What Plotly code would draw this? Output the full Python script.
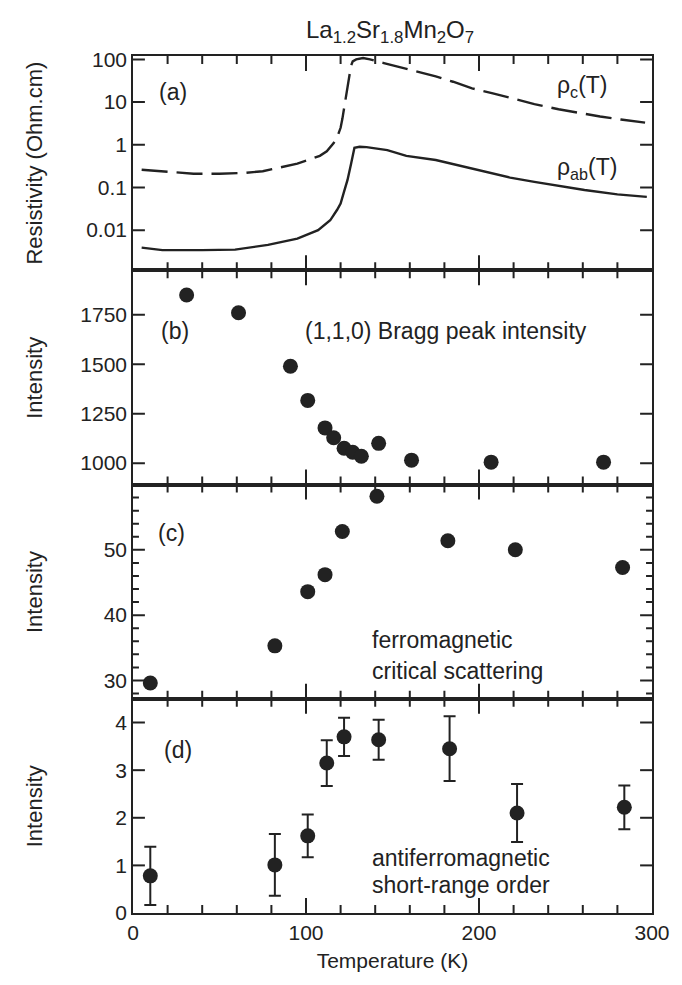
import plotly.graph_objects as go

# ---- data ----
T_rho_c = [5, 15, 25, 35, 50, 65, 75, 85, 95, 102, 108, 112, 116, 118, 120, 121, 122, 123, 124, 125,
           126, 127, 129, 133, 137, 145, 155, 165, 175, 185, 196, 208, 219, 232, 246, 258, 270, 282, 296]
rho_c = [0.26, 0.24, 0.22, 0.21, 0.21, 0.22, 0.24, 0.29, 0.36, 0.45, 0.55, 0.70, 1.1, 1.5, 2.5, 4, 7, 12, 22, 40,
         70, 90, 100, 108, 100, 82, 65, 52, 40, 30, 21, 16, 12.3, 9, 6.8, 5.5, 4.6, 3.9, 3.3]

T_rho_ab = [5, 17, 40, 59, 78, 95, 107, 114, 118, 120, 122, 124, 126, 128, 131, 135, 147, 158, 175,
            190, 204, 218, 232, 246, 261, 280, 297]
rho_ab = [0.0039, 0.0034, 0.0034, 0.0035, 0.0045, 0.0063, 0.010, 0.017, 0.030, 0.042, 0.080, 0.15, 0.35,
          0.85, 0.90, 0.88, 0.75, 0.55, 0.44, 0.32, 0.23, 0.17, 0.135, 0.108, 0.087, 0.069, 0.060]

T_bragg = [31, 61, 91, 101, 111, 116, 122, 127, 132, 142, 161, 207, 272]
bragg = [1850, 1760, 1490, 1317, 1178, 1128, 1075, 1055, 1035, 1100, 1015, 1005, 1005]

T_fm = [10, 82, 101, 111, 121, 141, 182, 221, 283]
fm = [29.6, 35.3, 43.6, 46.2, 52.8, 58.2, 51.4, 50.0, 47.3]

T_afm = [10, 82, 101, 112, 122, 142, 183, 222, 284]
afm = [0.78, 1.01, 1.62, 3.15, 3.70, 3.64, 3.45, 2.10, 2.22]
afm_err = [0.61, 0.65, 0.45, 0.48, 0.40, 0.42, 0.68, 0.61, 0.46]

# ---- tick values ----
x_ticks = [0, 100, 200, 300]
x_major = [100, 200]
x_minor = [20, 40, 60, 80, 120, 140, 160, 180, 220, 240, 260, 280]
a_ticks = [0.01, 0.1, 1, 10, 100]
a_ticktext = ["0.01", "0.1", "1", "10", "100"]
b_ticks = [1000, 1250, 1500, 1750]
c_ticks = [30, 40, 50]
c_minor = [28, 32, 34, 36, 38, 42, 44, 46, 48, 52, 54, 56, 58]
d_ticks = [0, 1, 2, 3, 4]

x_range = [0, 300]
a_range = [-2.94, 2.08]   # log10 units
b_range = [892, 1975]
c_range = [27.2, 60]
d_range = [0, 4.5]

INK = "#222222"
FONT = "Liberation Sans, Arial, Helvetica, sans-serif"
W, H, ML, MR, MT, MB = 682, 985, 133, 26, 56, 72
PW = W - ML - MR              # plot width in px
PH = (H - MT - MB) / 4.0      # panel height in px

fig = go.Figure()
fig.add_trace(go.Scatter(x=T_rho_c, y=rho_c, mode="lines", xaxis="x", yaxis="y",
                         line=dict(color=INK, width=2.4, dash="26px,9px")))
fig.add_trace(go.Scatter(x=T_rho_ab, y=rho_ab, mode="lines", xaxis="x", yaxis="y",
                         line=dict(color=INK, width=2.4)))
fig.add_trace(go.Scatter(x=T_bragg, y=bragg, mode="markers", xaxis="x2", yaxis="y2",
                         marker=dict(color=INK, size=15)))
fig.add_trace(go.Scatter(x=T_fm, y=fm, mode="markers", xaxis="x3", yaxis="y3",
                         marker=dict(color=INK, size=15)))
fig.add_trace(go.Scatter(x=T_afm, y=afm, mode="markers", xaxis="x4", yaxis="y4",
                         marker=dict(color=INK, size=15),
                         error_y=dict(type="data", array=afm_err, visible=True,
                                      color=INK, thickness=2, width=6)))


# ---- inside tick marks on all four sides, drawn as line traces on each panel's own axes ----
def tick_trace(i, yrng, ylog, ymajor, yminor):
    def yv(u):
        return 10 ** u if ylog else u

    lo, hi = yrng
    xs, ys = [], []
    for vals, L in [(x_major, 15), (x_minor, 8)]:
        dy = L / PH * (hi - lo)
        for v in vals:
            xs += [v, v, None, v, v, None]
            ys += [yv(lo), yv(lo + dy), None, yv(hi), yv(hi - dy), None]
    for vals, L in [(ymajor, 12), (yminor, 6)]:
        dx = L / PW * (x_range[1] - x_range[0])
        for v in vals:
            xs += [x_range[0], x_range[0] + dx, None, x_range[1], x_range[1] - dx, None]
            ys += [v, v, None, v, v, None]
    suffix = "" if i == 1 else str(i)
    return go.Scatter(x=xs, y=ys, mode="lines", xaxis="x" + suffix, yaxis="y" + suffix,
                      line=dict(color=INK, width=2), hoverinfo="skip", connectgaps=False)


fig.add_trace(tick_trace(1, a_range, True, a_ticks, []))
fig.add_trace(tick_trace(2, b_range, False, b_ticks, []))
fig.add_trace(tick_trace(3, c_range, False, c_ticks, c_minor))
fig.add_trace(tick_trace(4, d_range, False, d_ticks[1:], []))

tickfont = dict(family=FONT, size=21)
doms = [[0.75, 1.0], [0.5, 0.75], [0.25, 0.5], [0.0, 0.25]]


def xax(i, labels):
    return dict(domain=[0, 1], anchor="y" if i == 1 else f"y{i}", range=x_range,
                showline=True, linecolor=INK, linewidth=1.5, mirror=True, ticks="",
                tickmode="array", tickvals=x_ticks,
                ticktext=[str(v) for v in x_ticks] if labels else [""] * len(x_ticks),
                tickfont=tickfont, showgrid=False, zeroline=False)


def yax(i, **kw):
    d = dict(domain=doms[i - 1], anchor="x" if i == 1 else f"x{i}",
             showline=True, linecolor=INK, linewidth=1.5, mirror=True, ticks="",
             tickfont=tickfont, showgrid=False, zeroline=False)
    d.update(kw)
    return d


fig.update_layout(
    xaxis=xax(1, False), xaxis2=xax(2, False), xaxis3=xax(3, False),
    xaxis4=dict(xax(4, True), title=dict(text="Temperature (K)", font=dict(family=FONT, size=21),
                                          standoff=10)),
    yaxis=yax(1, type="log", range=a_range, tickmode="array", tickvals=a_ticks, ticktext=a_ticktext),
    yaxis2=yax(2, range=b_range, tickmode="array", tickvals=b_ticks),
    yaxis3=yax(3, range=c_range, tickmode="array", tickvals=c_ticks),
    yaxis4=yax(4, range=d_range, tickmode="array", tickvals=d_ticks),
)

ann_font = dict(family=FONT, size=23, color=INK)
anns = [
    dict(x=14, y=1.23, xref="x", yref="y", text="(a)"),
    dict(x=244, y=1.36, xref="x", yref="y", text="ρ<sub>c</sub>(T)"),
    dict(x=244, y=-0.55, xref="x", yref="y", text="ρ<sub>ab</sub>(T)"),
    dict(x=15, y=1667, xref="x2", yref="y2", text="(b)"),
    dict(x=98, y=1667, xref="x2", yref="y2", text="(1,1,0) Bragg peak intensity"),
    dict(x=13.5, y=52.6, xref="x3", yref="y3", text="(c)"),
    dict(x=137, y=36.2, xref="x3", yref="y3", text="ferromagnetic"),
    dict(x=137, y=31.5, xref="x3", yref="y3", text="critical scattering"),
    dict(x=17, y=3.43, xref="x4", yref="y4", text="(d)"),
    dict(x=137, y=1.16, xref="x4", yref="y4", text="antiferromagnetic"),
    dict(x=137, y=0.59, xref="x4", yref="y4", text="short-range order"),
]
for a in anns:
    fig.add_annotation(**a, xanchor="left", yanchor="middle", showarrow=False, font=ann_font)

lab_font = dict(family=FONT, size=22, color=INK)
for text, yc in [("Resistivity (Ohm.cm)", 0.875), ("Intensity", 0.625), ("Intensity", 0.375),
                 ("Intensity", 0.125)]:
    fig.add_annotation(x=-0.19, y=yc, xref="paper", yref="paper", text=text, textangle=-90,
                       showarrow=False, xanchor="center", yanchor="middle", font=lab_font)
fig.add_annotation(x=0.495, y=1.029, xref="paper", yref="paper",
                   text="La<sub>1.2</sub>Sr<sub>1.8</sub>Mn<sub>2</sub>O<sub>7</sub>",
                   showarrow=False, xanchor="center", yanchor="middle",
                   font=dict(family=FONT, size=24, color=INK))

fig.update_layout(width=W, height=H, margin=dict(l=ML, r=MR, t=MT, b=MB),
                  showlegend=False, template="simple_white",
                  plot_bgcolor="white", paper_bgcolor="white",
                  font=dict(family=FONT, color=INK))

fig.write_html("out.html")
